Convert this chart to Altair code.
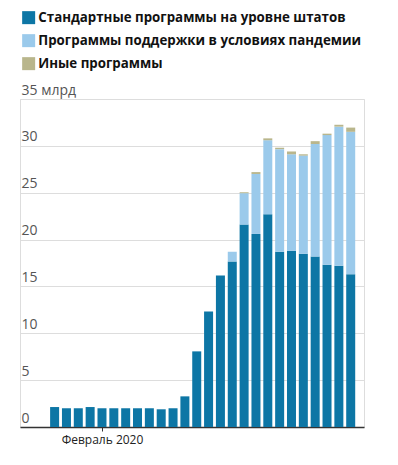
import altair as alt
import pandas as pd

weeks = list(range(26))  # weekly, week 4 = start of February 2020
tick_week = 4
tick_label = "Февраль 2020"

standard = [2.13, 2.0, 2.0, 2.13, 2.0, 2.0, 2.0, 2.0, 2.0, 1.89, 2.0, 3.27, 8.07,
            12.33, 16.17, 17.67, 21.6, 20.6, 22.7, 18.7, 18.8, 18.5, 18.2, 17.3, 17.2, 16.3]
pandemic = [0] * 15 + [1.03, 3.35, 6.4, 7.9, 10.95, 10.3, 10.46, 12.0, 13.85, 14.85, 15.2]
other = [0] * 16 + [0.1, 0.2, 0.2, 0.15, 0.3, 0.14, 0.3, 0.15, 0.2, 0.45]

series = ["Стандартные программы на уровне штатов",
          "Программы поддержки в условиях пандемии",
          "Иные программы"]
colors = ["#0d76a5", "#9bcaeb", "#b9b68c"]

rows = []
for i, w in enumerate(weeks):
    for k, (name, vals) in enumerate(zip(series, [standard, pandemic, other])):
        rows.append({"week": w, "series": name, "value": vals[i], "idx": k})
df = pd.DataFrame(rows)

chart = alt.Chart(df).mark_bar(width=9).encode(
    x=alt.X("week:Q",
            scale=alt.Scale(domain=[-2.5, 25.7], nice=False, zero=False),
            axis=alt.Axis(title=None, values=[tick_week],
                          labelExpr=f"'{tick_label}'", grid=False,
                          labelAngle=0, labelFontSize=12, labelColor="#222",
                          labelFont="Open Sans", labelPadding=3,
                          tickSize=4, tickColor="#333",
                          domainColor="#333", domainWidth=1.5)),
    y=alt.Y("value:Q", stack="zero",
            scale=alt.Scale(domain=[0, 35]),
            axis=alt.Axis(title=None, values=[0, 5, 10, 15, 20, 25, 30, 35],
                          labelExpr="datum.value == 35 ? '35 млрд' : datum.label",
                          labelAlign="left", labelBaseline="bottom",
                          labelPadding=-1, labelOffset=-2, ticks=False, domain=False,
                          labelFontSize=14, labelColor="#555", labelFont="Open Sans",
                          gridColor="#dddddd", gridWidth=1)),
    color=alt.Color("series:N", scale=alt.Scale(domain=series, range=colors),
                    legend=alt.Legend(title=None, orient="none", legendX=2, legendY=-88,
                                      direction="vertical", symbolType="square",
                                      symbolSize=169, symbolStrokeWidth=0,
                                      symbolOpacity=1,
                                      labelFontSize=13.3, labelFontWeight="bold",
                                      labelFont="Open Sans", labelColor="#111",
                                      labelOffset=3, rowPadding=8,
                                      labelLimit=400)),
    order=alt.Order("idx:Q", sort="ascending"),
).properties(
    width=344, height=328,
    padding={"left": 12, "top": 91, "right": 20, "bottom": 25},
    autosize=alt.AutoSizeParams(type="none"),
).configure_view(stroke=None).configure(background="white")

chart.save("out.html", embed_options={"renderer": "svg", "actions": False})
